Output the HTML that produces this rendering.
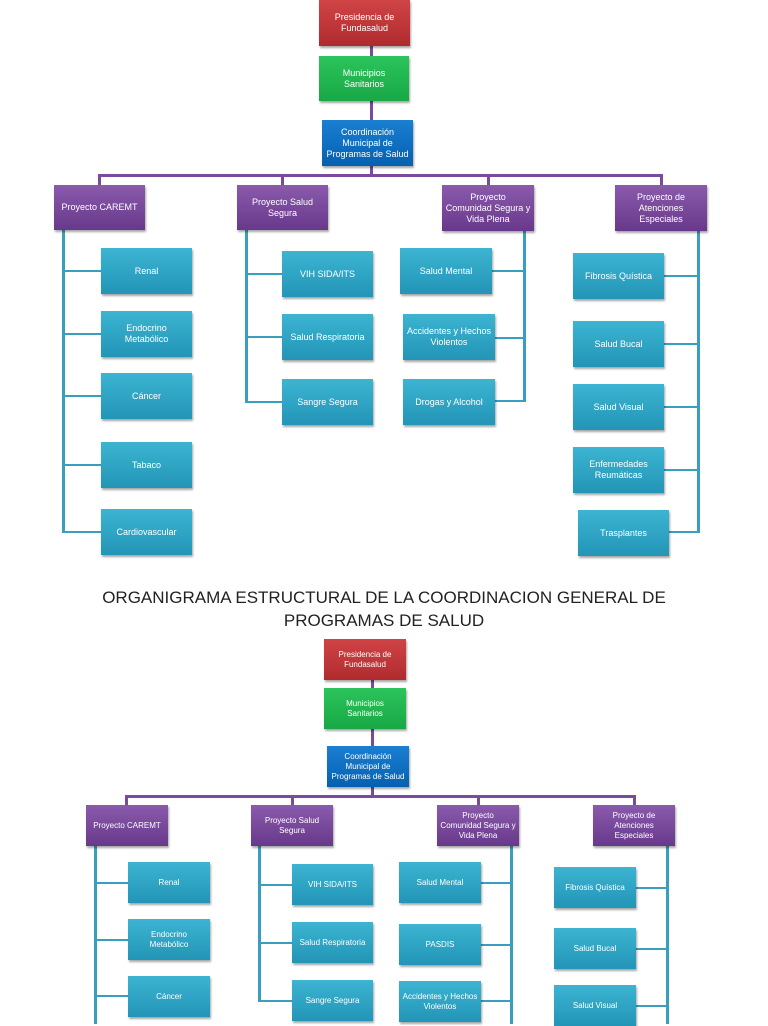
<!DOCTYPE html>
<html><head><meta charset="utf-8"><style>
body{margin:0;width:768px;height:1024px;background:#fff;position:relative;overflow:hidden;font-family:"Liberation Sans",sans-serif}
.b{position:absolute;display:flex;align-items:center;justify-content:center;text-align:center;color:#fff;font-size:9px;line-height:11px;box-shadow:1px 2px 2px rgba(0,0,0,.35);box-sizing:border-box;padding:0 1px}
.r{background:linear-gradient(#d04446,#b02b2e)}
.g{background:linear-gradient(#2cc45c,#18a845)}
.bl{background:linear-gradient(#1a7fd2,#0560b0)}
.p{background:linear-gradient(#8a5aad,#68398a)}
.t{background:linear-gradient(#3cb4d2,#2395b6)}
.s{font-size:8px;line-height:10px}
.lp{position:absolute;background:#7a4a9c}
.lt{position:absolute;background:#3a9fbf}
.h{position:absolute;width:768px;text-align:center;font-size:17px;color:#222;line-height:23px}
</style></head><body>
<!-- top lines -->
<div class="lp" style="left:370px;top:46px;width:3px;height:75px"></div>
<div class="lp" style="left:370px;top:166px;width:3px;height:10px"></div>
<div class="lp" style="left:98px;top:174px;width:565px;height:3px"></div>
<div class="lp" style="left:98px;top:174px;width:3px;height:12px"></div>
<div class="lp" style="left:281px;top:174px;width:3px;height:12px"></div>
<div class="lp" style="left:487px;top:174px;width:3px;height:12px"></div>
<div class="lp" style="left:660px;top:174px;width:3px;height:12px"></div>
<div class="lt" style="left:62px;top:230px;width:3px;height:303px"></div>
<div class="lt" style="left:62px;top:270px;width:40px;height:2px"></div>
<div class="lt" style="left:62px;top:333px;width:40px;height:2px"></div>
<div class="lt" style="left:62px;top:395px;width:40px;height:2px"></div>
<div class="lt" style="left:62px;top:464px;width:40px;height:2px"></div>
<div class="lt" style="left:62px;top:531px;width:40px;height:2px"></div>
<div class="lt" style="left:245px;top:230px;width:3px;height:173px"></div>
<div class="lt" style="left:245px;top:273px;width:38px;height:2px"></div>
<div class="lt" style="left:245px;top:336px;width:38px;height:2px"></div>
<div class="lt" style="left:245px;top:401px;width:38px;height:2px"></div>
<div class="lt" style="left:523px;top:230px;width:3px;height:172px"></div>
<div class="lt" style="left:492px;top:270px;width:33px;height:2px"></div>
<div class="lt" style="left:495px;top:337px;width:30px;height:2px"></div>
<div class="lt" style="left:495px;top:400px;width:30px;height:2px"></div>
<div class="lt" style="left:697px;top:230px;width:3px;height:303px"></div>
<div class="lt" style="left:664px;top:275px;width:34px;height:2px"></div>
<div class="lt" style="left:664px;top:343px;width:34px;height:2px"></div>
<div class="lt" style="left:664px;top:406px;width:34px;height:2px"></div>
<div class="lt" style="left:664px;top:469px;width:34px;height:2px"></div>
<div class="lt" style="left:669px;top:531px;width:29px;height:2px"></div>
<!-- top boxes -->
<div class="b r" style="left:319px;top:0;width:91px;height:46px">Presidencia de<br>Fundasalud</div>
<div class="b g" style="left:319px;top:56px;width:90px;height:45px">Municipios<br>Sanitarios</div>
<div class="b bl" style="left:322px;top:120px;width:91px;height:46px">Coordinación<br>Municipal de<br>Programas de Salud</div>
<div class="b p" style="left:54px;top:185px;width:91px;height:45px">Proyecto CAREMT</div>
<div class="b p" style="left:237px;top:185px;width:91px;height:45px">Proyecto Salud<br>Segura</div>
<div class="b p" style="left:442px;top:185px;width:92px;height:46px">Proyecto<br>Comunidad Segura y<br>Vida Plena</div>
<div class="b p" style="left:615px;top:185px;width:92px;height:46px">Proyecto de<br>Atenciones<br>Especiales</div>
<div class="b t" style="left:101px;top:248px;width:91px;height:46px">Renal</div>
<div class="b t" style="left:101px;top:311px;width:91px;height:46px">Endocrino<br>Metabólico</div>
<div class="b t" style="left:101px;top:373px;width:91px;height:46px">Cáncer</div>
<div class="b t" style="left:101px;top:442px;width:91px;height:46px">Tabaco</div>
<div class="b t" style="left:101px;top:509px;width:91px;height:46px">Cardiovascular</div>
<div class="b t" style="left:282px;top:251px;width:91px;height:46px">VIH SIDA/ITS</div>
<div class="b t" style="left:282px;top:314px;width:91px;height:46px">Salud Respiratoria</div>
<div class="b t" style="left:282px;top:379px;width:91px;height:46px">Sangre Segura</div>
<div class="b t" style="left:400px;top:248px;width:92px;height:46px">Salud Mental</div>
<div class="b t" style="left:403px;top:314px;width:92px;height:46px">Accidentes y Hechos<br>Violentos</div>
<div class="b t" style="left:403px;top:379px;width:92px;height:46px">Drogas y Alcohol</div>
<div class="b t" style="left:573px;top:253px;width:91px;height:46px">Fibrosis Quística</div>
<div class="b t" style="left:573px;top:321px;width:91px;height:46px">Salud Bucal</div>
<div class="b t" style="left:573px;top:384px;width:91px;height:46px">Salud Visual</div>
<div class="b t" style="left:573px;top:447px;width:91px;height:46px">Enfermedades<br>Reumáticas</div>
<div class="b t" style="left:578px;top:510px;width:91px;height:46px">Trasplantes</div>
<!-- title -->
<div class="h" style="top:586px">ORGANIGRAMA ESTRUCTURAL DE LA COORDINACION GENERAL DE</div>
<div class="h" style="top:609px">PROGRAMAS DE SALUD</div>
<!-- bottom lines -->
<div class="lp" style="left:371px;top:680px;width:3px;height:67px"></div>
<div class="lp" style="left:371px;top:787px;width:3px;height:10px"></div>
<div class="lp" style="left:125px;top:795px;width:510px;height:3px"></div>
<div class="lp" style="left:125px;top:795px;width:3px;height:11px"></div>
<div class="lp" style="left:291px;top:795px;width:3px;height:11px"></div>
<div class="lp" style="left:477px;top:795px;width:3px;height:11px"></div>
<div class="lp" style="left:633px;top:795px;width:3px;height:11px"></div>
<div class="lt" style="left:94px;top:846px;width:3px;height:178px"></div>
<div class="lt" style="left:94px;top:882px;width:34px;height:2px"></div>
<div class="lt" style="left:94px;top:939px;width:34px;height:2px"></div>
<div class="lt" style="left:94px;top:995px;width:34px;height:2px"></div>
<div class="lt" style="left:258px;top:846px;width:3px;height:156px"></div>
<div class="lt" style="left:258px;top:884px;width:34px;height:2px"></div>
<div class="lt" style="left:258px;top:942px;width:34px;height:2px"></div>
<div class="lt" style="left:258px;top:1000px;width:34px;height:2px"></div>
<div class="lt" style="left:510px;top:846px;width:3px;height:178px"></div>
<div class="lt" style="left:481px;top:882px;width:30px;height:2px"></div>
<div class="lt" style="left:481px;top:944px;width:30px;height:2px"></div>
<div class="lt" style="left:481px;top:1000px;width:30px;height:2px"></div>
<div class="lt" style="left:666px;top:846px;width:3px;height:178px"></div>
<div class="lt" style="left:636px;top:887px;width:31px;height:2px"></div>
<div class="lt" style="left:636px;top:948px;width:31px;height:2px"></div>
<div class="lt" style="left:636px;top:1005px;width:31px;height:2px"></div>
<!-- bottom boxes -->
<div class="b r s" style="left:324px;top:639px;width:82px;height:41px">Presidencia de<br>Fundasalud</div>
<div class="b g s" style="left:324px;top:688px;width:82px;height:41px">Municipios<br>Sanitarios</div>
<div class="b bl s" style="left:327px;top:746px;width:82px;height:41px">Coordinación<br>Municipal de<br>Programas de Salud</div>
<div class="b p s" style="left:86px;top:805px;width:82px;height:41px">Proyecto CAREMT</div>
<div class="b p s" style="left:251px;top:805px;width:82px;height:41px">Proyecto Salud<br>Segura</div>
<div class="b p s" style="left:437px;top:805px;width:82px;height:41px">Proyecto<br>Comunidad Segura y<br>Vida Plena</div>
<div class="b p s" style="left:593px;top:805px;width:82px;height:41px">Proyecto de<br>Atenciones<br>Especiales</div>
<div class="b t s" style="left:128px;top:862px;width:82px;height:41px">Renal</div>
<div class="b t s" style="left:128px;top:919px;width:82px;height:41px">Endocrino<br>Metabólico</div>
<div class="b t s" style="left:128px;top:976px;width:82px;height:41px">Cáncer</div>
<div class="b t s" style="left:292px;top:864px;width:81px;height:41px">VIH SIDA/ITS</div>
<div class="b t s" style="left:292px;top:922px;width:81px;height:41px">Salud Respiratoria</div>
<div class="b t s" style="left:292px;top:980px;width:81px;height:41px">Sangre Segura</div>
<div class="b t s" style="left:399px;top:862px;width:82px;height:41px">Salud Mental</div>
<div class="b t s" style="left:399px;top:924px;width:82px;height:41px">PASDIS</div>
<div class="b t s" style="left:399px;top:981px;width:82px;height:41px">Accidentes y Hechos<br>Violentos</div>
<div class="b t s" style="left:554px;top:867px;width:82px;height:41px">Fibrosis Quística</div>
<div class="b t s" style="left:554px;top:928px;width:82px;height:41px">Salud Bucal</div>
<div class="b t s" style="left:554px;top:985px;width:82px;height:41px">Salud Visual</div>
</body></html>
